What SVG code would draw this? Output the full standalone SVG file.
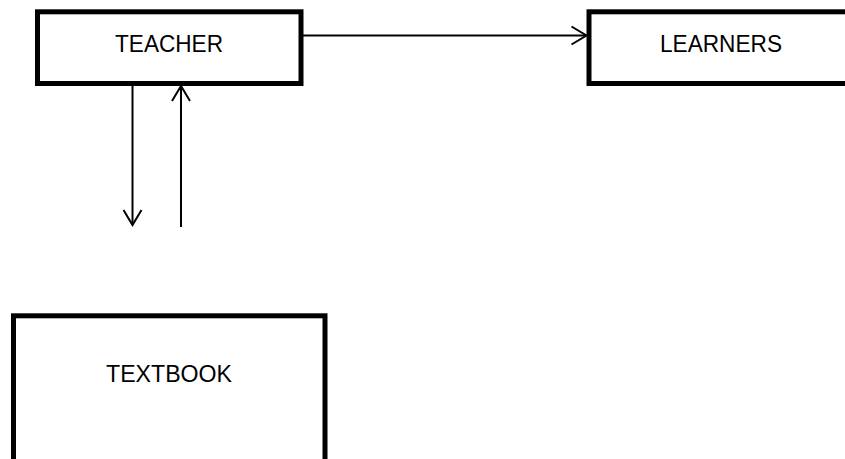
<svg xmlns="http://www.w3.org/2000/svg" width="845" height="459" viewBox="0 0 845 459">
<style>
.box{fill:#fff;stroke:#000;stroke-width:5}
.lbl{font-family:"Liberation Sans",Arial,sans-serif;font-size:24px;fill:#000;text-anchor:middle}
.conn{stroke:#000;stroke-width:2;fill:none}
</style>
<defs>
<marker id="arr" viewBox="-17 -11 19 22" markerWidth="19" markerHeight="22" refX="0" refY="0" markerUnits="userSpaceOnUse" orient="auto">
<path d="M-15,-9 L0,0 L-15,9" fill="none" stroke="#000" stroke-width="2"/>
</marker>
</defs>
<rect width="845" height="459" fill="#fff"/>
<g id="teacher">
<rect class="box" x="37.5" y="11.8" width="263.5" height="71.7"/>
<text class="lbl" x="169" y="52" textLength="108" lengthAdjust="spacingAndGlyphs">TEACHER</text>
</g>
<g id="learners">
<rect class="box" x="589" y="11.8" width="270" height="71.7"/>
<text class="lbl" x="721" y="52" textLength="122" lengthAdjust="spacingAndGlyphs">LEARNERS</text>
</g>
<g id="textbook">
<rect class="box" x="13.5" y="315.8" width="311.5" height="160"/>
<text class="lbl" x="169" y="381.7" textLength="126" lengthAdjust="spacingAndGlyphs">TEXTBOOK</text>
</g>
<g id="connectors">
<line class="conn" x1="303" y1="35.5" x2="586.5" y2="35.5" marker-end="url(#arr)"/>
<line class="conn" x1="132.5" y1="86" x2="132.5" y2="225" marker-end="url(#arr)"/>
<line class="conn" x1="181" y1="227" x2="181" y2="86" marker-end="url(#arr)"/>
</g>
</svg>
